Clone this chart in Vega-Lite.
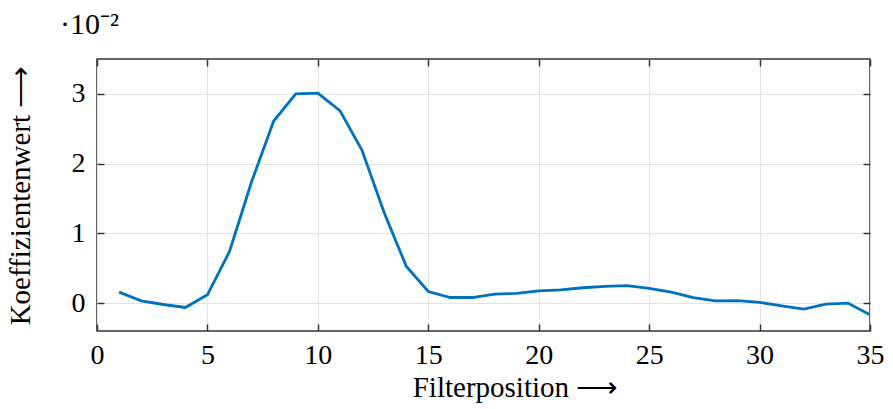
{
  "$schema": "https://vega.github.io/schema/vega-lite/v6.json",
  "width": 773,
  "height": 272,
  "autosize": {"type": "none"},
  "padding": {"left": 97, "top": 59, "right": 23, "bottom": 78},
  "background": "white",
  "title": {
    "text": "·10⁻²",
    "anchor": "start",
    "frame": "group",
    "dx": -37,
    "offset": 18,
    "font": "Liberation Serif",
    "fontSize": 30,
    "fontWeight": "normal",
    "color": "#000000"
  },
  "config": {
    "view": {"stroke": "#333333", "strokeWidth": 1.5},
    "font": "Liberation Serif"
  },
  "data": {
    "values": [
      {"pos": 1, "val": 0.157}, {"pos": 2, "val": 0.033}, {"pos": 3, "val": -0.02},
      {"pos": 4, "val": -0.063}, {"pos": 5, "val": 0.119}, {"pos": 6, "val": 0.74},
      {"pos": 7, "val": 1.74}, {"pos": 8, "val": 2.61}, {"pos": 9, "val": 3.0},
      {"pos": 10, "val": 3.01}, {"pos": 11, "val": 2.76}, {"pos": 12, "val": 2.19},
      {"pos": 13, "val": 1.3}, {"pos": 14, "val": 0.53}, {"pos": 15, "val": 0.166},
      {"pos": 16, "val": 0.08}, {"pos": 17, "val": 0.08}, {"pos": 18, "val": 0.13},
      {"pos": 19, "val": 0.14}, {"pos": 20, "val": 0.176}, {"pos": 21, "val": 0.19},
      {"pos": 22, "val": 0.22}, {"pos": 23, "val": 0.24}, {"pos": 24, "val": 0.25},
      {"pos": 25, "val": 0.21}, {"pos": 26, "val": 0.157}, {"pos": 27, "val": 0.08},
      {"pos": 28, "val": 0.033}, {"pos": 29, "val": 0.035}, {"pos": 30, "val": 0.01},
      {"pos": 31, "val": -0.04}, {"pos": 32, "val": -0.086}, {"pos": 33, "val": -0.014},
      {"pos": 34, "val": 0.0}, {"pos": 35, "val": -0.167}
    ]
  },
  "layer": [
    {
      "mark": {"type": "line", "color": "#0072BD", "strokeWidth": 2.8, "clip": true},
      "encoding": {
        "x": {
          "field": "pos", "type": "quantitative",
          "scale": {"domain": [0, 35], "nice": false, "zero": false},
          "axis": {
            "orient": "bottom", "values": [0, 5, 10, 15, 20, 25, 30, 35],
            "title": "Filterposition ⟶", "titleFontSize": 29, "titleFontWeight": "normal",
            "titleColor": "#000", "titlePadding": 4, "titleX": 418, "titleAnchor": "middle",
            "labelFontSize": 28, "labelColor": "#000", "labelPadding": 17,
            "labelFlush": false, "labelOverlap": false, "labelBound": false,
            "tickSize": -7, "tickColor": "#333", "tickWidth": 1.5,
            "domain": false,
            "grid": true, "gridColor": "#e3e3e3", "gridWidth": 1
          }
        },
        "y": {
          "field": "val", "type": "quantitative",
          "scale": {"domain": [-0.4, 3.5], "nice": false, "zero": false},
          "axis": {
            "orient": "left", "values": [0, 1, 2, 3],
            "title": "Koeffizientenwert ⟶", "titleFontSize": 29, "titleFontWeight": "normal",
            "titleColor": "#000", "titlePadding": 36,
            "labelFontSize": 28, "labelColor": "#000", "labelPadding": 19,
            "labelFlush": false, "labelOverlap": false,
            "tickSize": -7, "tickColor": "#333", "tickWidth": 1.5,
            "domain": false,
            "grid": true, "gridColor": "#e3e3e3", "gridWidth": 1
          }
        }
      }
    },
    {
      "mark": {"type": "line", "strokeOpacity": 0},
      "encoding": {
        "x": {
          "field": "pos", "type": "quantitative",
          "scale": {"domain": [0, 35], "nice": false, "zero": false},
          "axis": {
            "orient": "top", "values": [0, 5, 10, 15, 20, 25, 30, 35],
            "title": null, "labels": false, "domain": false, "grid": false,
            "tickSize": -7, "tickColor": "#333", "tickWidth": 1.5
          }
        },
        "y": {
          "field": "val", "type": "quantitative",
          "scale": {"domain": [-0.4, 3.5], "nice": false, "zero": false},
          "axis": {
            "orient": "right", "values": [0, 1, 2, 3],
            "title": null, "labels": false, "domain": false, "grid": false,
            "tickSize": -7, "tickColor": "#333", "tickWidth": 1.5
          }
        }
      }
    }
  ],
  "resolve": {"axis": {"x": "independent", "y": "independent"}}
}
